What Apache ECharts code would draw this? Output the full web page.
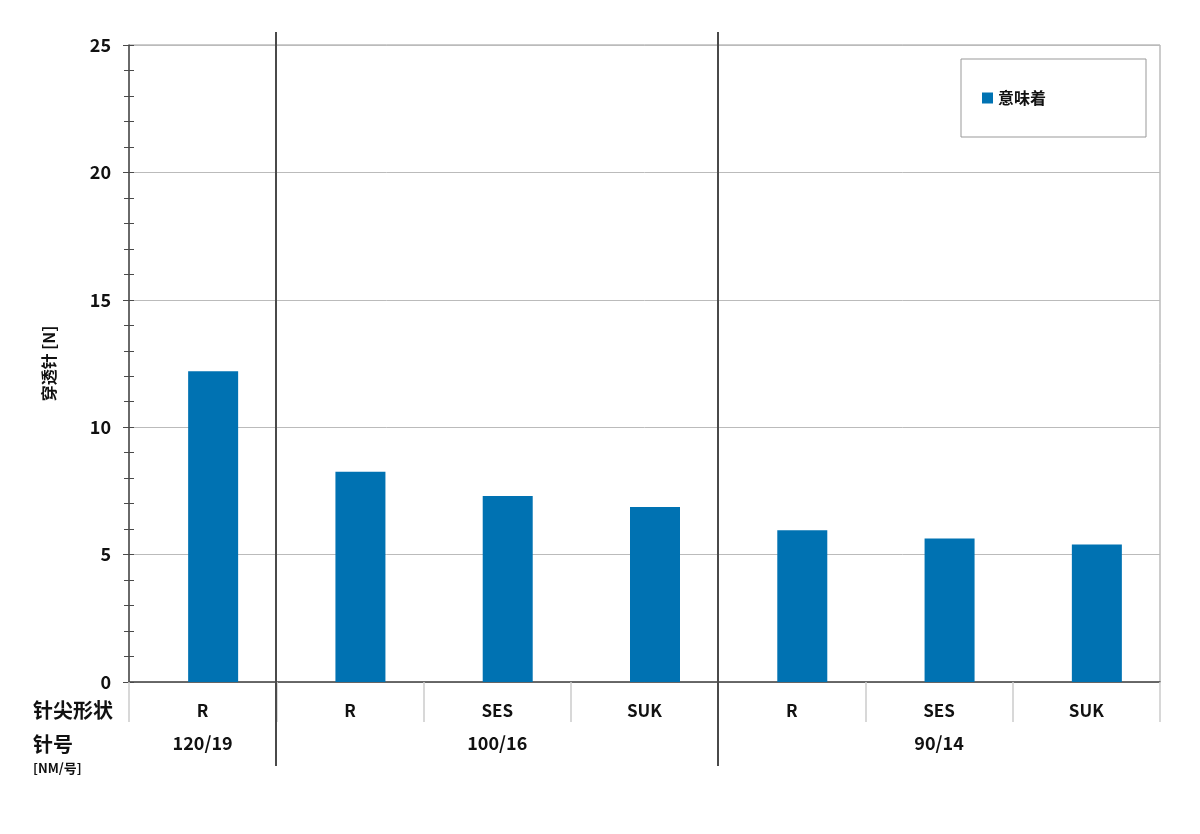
<!DOCTYPE html>
<html>
<head>
<meta charset="utf-8">
<script src="https://cdn.jsdelivr.net/npm/echarts@6/dist/echarts.min.js"></script>
<style>
    html, body { margin: 0; padding: 0; background: #fff; }
    #chart { width: 1200px; height: 834px; }
</style>
</head>
<body>
<div id="chart"></div>
<script>
    // data
    const categories = ['R', 'R', 'SES', 'SUK', 'R', 'SES', 'SUK'];
    const values = [12.2, 8.25, 7.3, 6.87, 5.96, 5.63, 5.4];
    const groupLabels = ['120/19', '100/16', '90/14'];
    const groupSpans = [1, 3, 3];
    const seriesName = '意味着';
    const yName = '穿透针 [N]';
    const rowLabels = ['针尖形状', '针号', '[NM/号]'];

    const FONT = '"Noto Sans CJK SC", "Noto Sans", sans-serif';
    const DARK = '#4a4a4a';

    const chart = echarts.init(document.getElementById('chart'));

    chart.setOption({
        animation: false,
        textStyle: { fontFamily: FONT },
        grid: [
            { left: 129, right: 40, top: 45, bottom: 152, show: true, borderColor: '#999', borderWidth: 1 },
            // bars sit a little right of the category centre in the original
            { left: 139.5, right: 29.5, top: 45, bottom: 152 }
        ],
        legend: {
            data: [seriesName],
            left: 961,
            top: 59,
            orient: 'vertical',
            padding: [31, 100, 31, 21],
            borderColor: '#999',
            borderWidth: 1,
            icon: 'rect',
            itemWidth: 11,
            itemHeight: 11,
            textStyle: { fontSize: 16, fontWeight: 'bold', color: '#111', fontFamily: FONT }
        },
        xAxis: [
            {
                gridIndex: 0,
                type: 'category',
                data: categories,
                axisLine: { lineStyle: { color: DARK, width: 1.5 } },
                axisTick: { show: true, interval: 0, length: 40, lineStyle: { color: '#ccc', width: 1.5 } },
                axisLabel: { interval: 0, margin: 20, fontSize: 17, fontWeight: 'bold', color: '#111', fontFamily: FONT },
                splitLine: { show: false }
            },
            { gridIndex: 1, type: 'category', data: categories, show: false }
        ],
        yAxis: [
            {
                gridIndex: 0,
                type: 'value',
                min: 0,
                max: 25,
                interval: 5,
                name: yName,
                nameLocation: 'middle',
                nameGap: 72,
                nameTextStyle: { fontSize: 16, fontWeight: 'bold', color: '#111', fontFamily: FONT },
                axisLine: { show: true, lineStyle: { color: DARK, width: 1.5 } },
                axisTick: { show: true, length: 6, lineStyle: { color: DARK } },
                minorTick: { show: true, splitNumber: 5, length: 5, lineStyle: { color: DARK } },
                splitLine: { lineStyle: { color: '#bbb' } },
                axisLabel: { margin: 18, fontSize: 18, fontWeight: 'bold', color: '#111', fontFamily: FONT }
            },
            {
                // inner half of the ticks (they cross the axis line)
                gridIndex: 0,
                type: 'value',
                position: 'left',
                offset: 0,
                min: 0,
                max: 25,
                interval: 5,
                axisLine: { show: false },
                axisTick: { show: true, inside: true, length: 5, lineStyle: { color: DARK } },
                minorTick: { show: true, splitNumber: 5, length: 5, lineStyle: { color: DARK } },
                axisLabel: { show: false },
                splitLine: { show: false }
            },
            { gridIndex: 1, type: 'value', min: 0, max: 25, show: false }
        ],
        series: [
            {
                name: seriesName,
                type: 'bar',
                xAxisIndex: 1,
                yAxisIndex: 2,
                data: values,
                barWidth: 50,
                itemStyle: { color: '#0072b2' }
            }
        ]
    });

    // group labels and separators under the axis, placed from the category scale
    const c0 = chart.convertToPixel({ xAxisIndex: 0 }, 0);
    const c1 = chart.convertToPixel({ xAxisIndex: 0 }, 1);
    const band = c1 - c0;
    const left0 = c0 - band / 2;
    const axisY = chart.convertToPixel({ yAxisIndex: 0 }, 0);

    const graphics = [];
    let start = 0;
    groupLabels.forEach(function (label, i) {
        const n = groupSpans[i];
        graphics.push({
            type: 'text',
            x: left0 + band * (start + n / 2),
            y: axisY + 61,
            style: { text: label, fontSize: 18, fontWeight: 'bold', fill: '#111', fontFamily: FONT, align: 'center', verticalAlign: 'middle' }
        });
        if (i > 0) {
            const x = Math.round(left0 + band * start);
            graphics.push({
                type: 'line',
                z: 10,
                shape: { x1: x, y1: 32, x2: x, y2: axisY + 84 },
                style: { stroke: DARK, lineWidth: 2 }
            });
        }
        start += n;
    });

    graphics.push({
        type: 'text', x: 33, y: axisY + 28,
        style: { text: rowLabels[0], fontSize: 20, fontWeight: 'bold', fill: '#111', fontFamily: FONT, align: 'left', verticalAlign: 'middle' }
    });
    graphics.push({
        type: 'text', x: 33, y: axisY + 62,
        style: { text: rowLabels[1], fontSize: 20, fontWeight: 'bold', fill: '#111', fontFamily: FONT, align: 'left', verticalAlign: 'middle' }
    });
    graphics.push({
        type: 'text', x: 33, y: axisY + 86,
        style: { text: rowLabels[2], fontSize: 13, fontWeight: 'bold', fill: '#111', fontFamily: FONT, align: 'left', verticalAlign: 'middle' }
    });

    chart.setOption({ graphic: graphics });
</script>
</body>
</html>
